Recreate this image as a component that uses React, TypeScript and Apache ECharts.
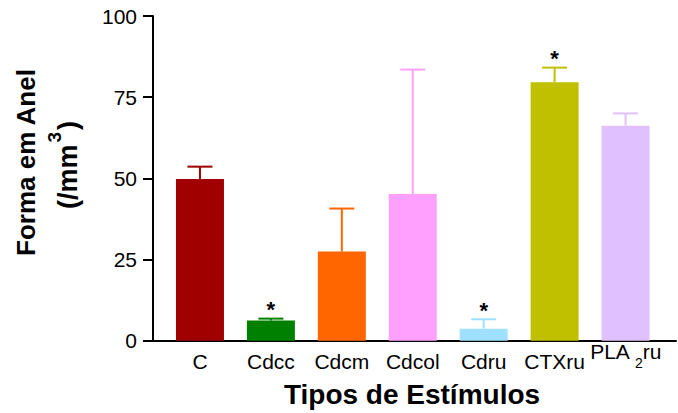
import React, { useEffect, useRef } from "react";
import * as echarts from "echarts";

const categories = ["C", "Cdcc", "Cdcm", "Cdcol", "Cdru", "CTXru", "PLA2ru"];
const means = [49.8, 6.2, 27.5, 45.2, 3.7, 79.6, 66.2];
const errors = [3.8, 0.6, 13.2, 38.3, 2.9, 4.5, 3.8];
const significant = [0, 1, 0, 0, 1, 1, 0];
const colors = ["#A00000", "#008000", "#FF6600", "#FFA0FF", "#A0E0FF", "#C0C000", "#E0C0FF"];
const yMin = 0;
const yMax = 100;
const yInterval = 25;

const FONT = "'Liberation Sans', Arial, Helvetica, sans-serif";

export default function App() {
  const ref = useRef<HTMLDivElement>(null);
  useEffect(() => {
    if (!ref.current) return;
    const chart = echarts.init(ref.current, undefined, { renderer: "svg" });
    const option: any = {
      animation: false,
      backgroundColor: "#ffffff",
      textStyle: { fontFamily: FONT, color: "#000" },
      grid: [
        { left: 164.5, width: 496.5, top: 16, bottom: 72.3 },
        { left: 153, right: 2, top: 16, bottom: 72.3 },
      ],
      xAxis: [
        {
          type: "category",
          gridIndex: 0,
          data: categories,
          axisLine: { show: false },
          axisTick: { show: false },
          axisLabel: {
            interval: 0,
            margin: 0,
            color: "#000",
            fontFamily: FONT,
            formatter: (v: string) =>
              v === "PLA2ru" ? "{p|PLA }{s|2}{p|ru}" : "{n|" + v + "}",
            rich: {
              n: { fontSize: 21, lineHeight: 41, fontFamily: FONT, color: "#000" },
              p: { fontSize: 21, lineHeight: 21, padding: [10, 0, 10, 0], fontFamily: FONT, color: "#000" },
              s: { fontSize: 14, lineHeight: 14, padding: [25, 0, 2, 0], fontFamily: FONT, color: "#000" },
            },
          },
        },
        {
          type: "value",
          gridIndex: 1,
          min: 0,
          max: 1,
          axisLine: { show: true, lineStyle: { color: "#000", width: 2 } },
          axisTick: { show: false },
          axisLabel: { show: false },
          splitLine: { show: false },
        },
      ],
      yAxis: [
        {
          type: "value",
          gridIndex: 0,
          min: yMin,
          max: yMax,
          interval: yInterval,
          offset: 11.5,
          axisLine: { show: true, lineStyle: { color: "#000", width: 2 } },
          axisTick: { show: true, length: 10, lineStyle: { color: "#000", width: 2 } },
          axisLabel: { margin: 16, fontSize: 21, color: "#000", fontFamily: FONT },
          splitLine: { show: false },
        },
        { type: "value", gridIndex: 1, show: false, min: 0, max: 1 },
      ],
      series: [
        {
          type: "bar",
          xAxisIndex: 0,
          yAxisIndex: 0,
          barWidth: 48,
          data: means.map((v, i) => ({ value: v, itemStyle: { color: colors[i] } })),
        },
        {
          type: "custom",
          xAxisIndex: 0,
          yAxisIndex: 0,
          data: means.map((v, i) => [i, v, errors[i], significant[i]]),
          renderItem: (params: any, api: any) => {
            const idx = api.value(0);
            const v = api.value(1);
            const e = api.value(2);
            const sig = api.value(3);
            const p0 = api.coord([idx, v]);
            const p1 = api.coord([idx, v + e]);
            const c = colors[idx];
            const children: any[] = [
              {
                type: "line",
                shape: { x1: p0[0], y1: p0[1], x2: p1[0], y2: p1[1] },
                style: { stroke: c, lineWidth: 2 },
              },
              {
                type: "line",
                shape: { x1: p1[0] - 12.5, y1: p1[1], x2: p1[0] + 12.5, y2: p1[1] },
                style: { stroke: c, lineWidth: 2 },
              },
            ];
            if (sig) {
              children.push({
                type: "text",
                x: p1[0],
                y: p1[1] - 9,
                style: {
                  text: "*",
                  fontSize: 22,
                  fontWeight: "bold",
                  fontFamily: FONT,
                  fill: "#000",
                  align: "center",
                  verticalAlign: "middle",
                },
              });
            }
            return { type: "group", children };
          },
        },
      ],
      graphic: [
        {
          type: "text",
          x: 26,
          y: 162.5,
          rotation: Math.PI / 2,
          style: {
            text: "Forma em Anel",
            fontSize: 26,
            fontWeight: "bold",
            fontFamily: FONT,
            fill: "#000",
            align: "center",
            verticalAlign: "middle",
          },
        },
        {
          type: "text",
          x: 63,
          y: 165,
          rotation: Math.PI / 2,
          style: {
            text: "{m|(/mm}{s|3}{m|)}",
            align: "center",
            verticalAlign: "middle",
            fill: "#000",
            rich: {
              m: { fontSize: 27, fontWeight: "bold", lineHeight: 27, padding: [10, 0, 0, 0], fontFamily: FONT, fill: "#000" },
              s: { fontSize: 19, fontWeight: "bold", lineHeight: 19, padding: [0, 2, 18, 2], fontFamily: FONT, fill: "#000" },
            },
          },
        },
        {
          type: "text",
          x: 412,
          y: 394,
          style: {
            text: "Tipos de Estímulos",
            fontSize: 28,
            fontWeight: "bold",
            fontFamily: FONT,
            fill: "#000",
            align: "center",
            verticalAlign: "middle",
          },
        },
      ],
    };
    chart.setOption(option);
    return () => chart.dispose();
  }, []);
  return (
    <div
      ref={ref}
      style={{ position: "fixed", left: 0, top: 0, width: 678, height: 413, background: "#fff" }}
    />
  );
}
